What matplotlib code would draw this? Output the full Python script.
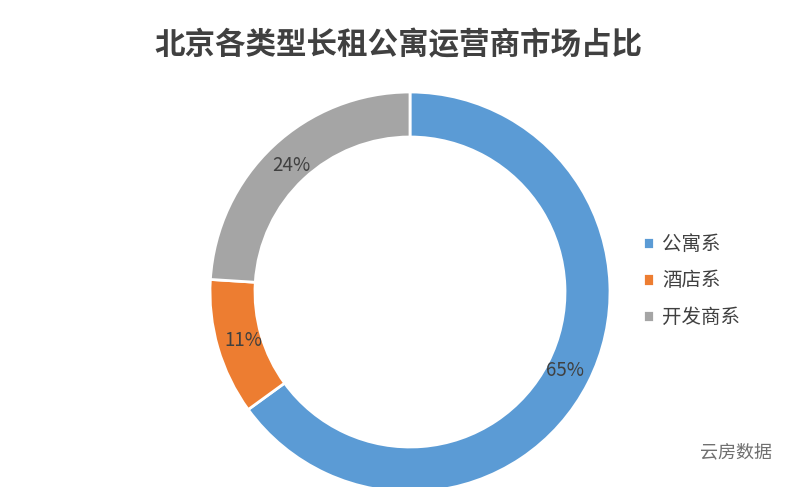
import matplotlib.pyplot as plt

plt.rcParams['font.family'] = ['Noto Sans CJK SC', 'DejaVu Sans']

title = '北京各类型长租公寓运营商市场占比'
categories = ['公寓系', '酒店系', '开发商系']
shares = [65, 11, 24]
colors = ['#5B9BD5', '#ED7D31', '#A5A5A5']

fig = plt.figure(figsize=(8, 4.87), dpi=100)
fig.patch.set_facecolor('white')

# donut: center ~ (410, 292) px, radius ~200 px
W, H = 800, 487
ax = fig.add_axes([210 / W, (H - 492) / H, 400 / W, 400 / H])
wedges, texts, autotexts = ax.pie(
    shares, colors=colors, startangle=90, counterclock=False,
    autopct='%d%%', pctdistance=0.87,
    wedgeprops=dict(width=0.225, edgecolor='white', linewidth=2),
    textprops=dict(fontsize=13.5, color='#404040'))
ax.set_xlim(-1, 1)
ax.set_ylim(-1, 1)
ax.set_aspect('equal')
for w in wedges:
    w.set_clip_on(False)

fig.text(0.498, 1 - 45 / H, title, ha='center', va='center',
         fontsize=22, fontweight='bold', color='#404040')

leg = fig.legend(wedges, categories, loc='center left',
                 bbox_to_anchor=(625 / W, 1 - 281 / H), frameon=False,
                 fontsize=14, handlelength=0.6, handleheight=0.6,
                 handletextpad=0.4, labelspacing=0.8, labelcolor='#404040')

fig.text(700 / W, 1 - 452 / H, '云房数据', ha='left', va='center',
         fontsize=13, color='#707070')

fig.savefig('out.png', dpi=100)
